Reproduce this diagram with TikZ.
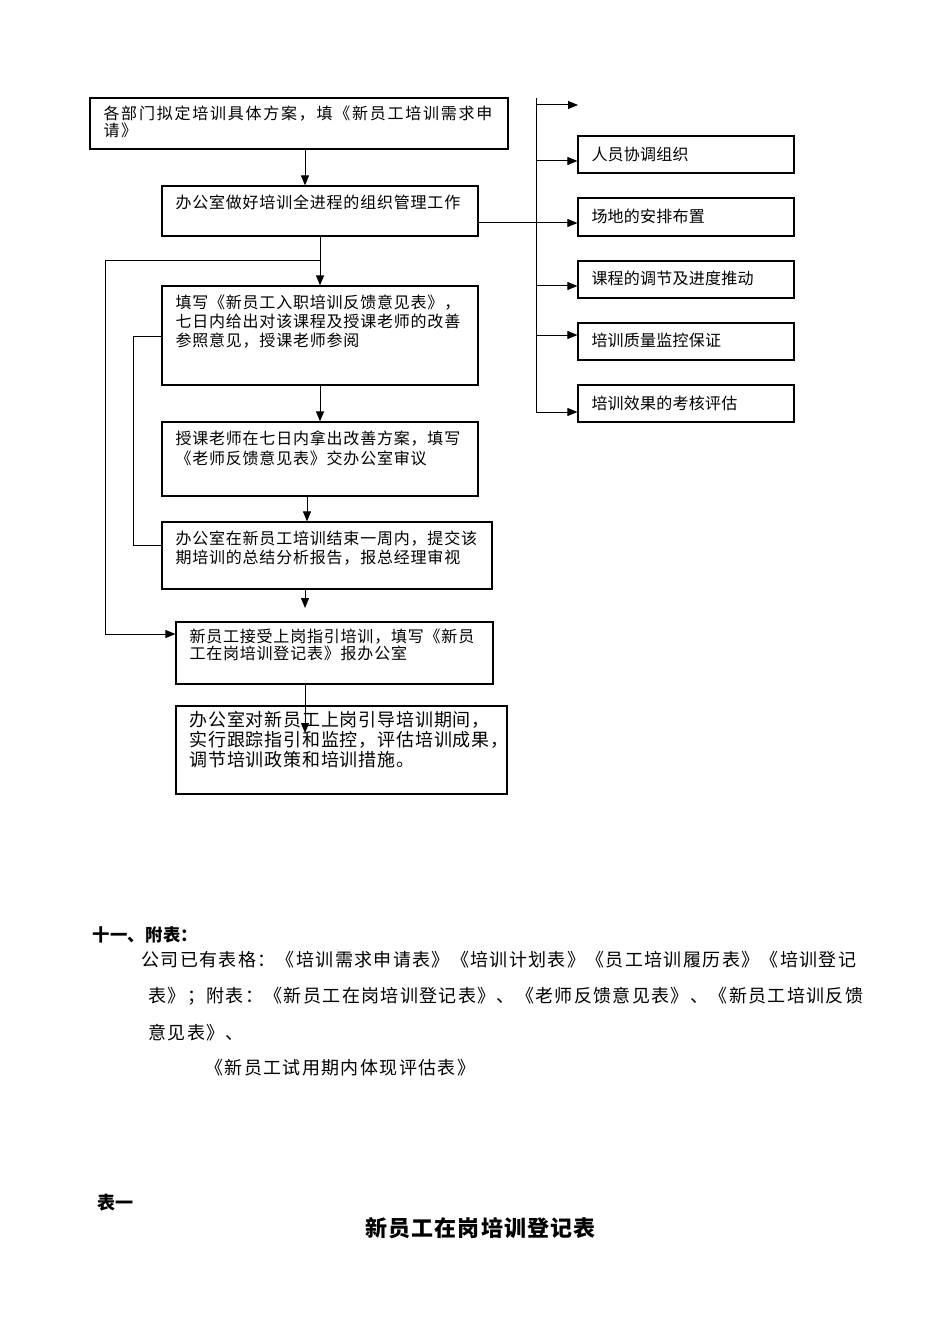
\documentclass[tikz,border=0pt]{standalone}
\usepackage{fontspec}
\setmainfont{Noto Sans CJK SC}
\usetikzlibrary{arrows.meta,fit,calc}
\begin{document}
\begin{tikzpicture}[x=0.75pt,y=-0.75pt, line width=0.75pt,
  box/.style={draw, line width=0.9pt, inner sep=0pt},
  arr/.style={-{Triangle[length=7.5pt,width=6pt]}},
  txt/.style={anchor=north west, inner sep=0pt, align=left},
  fsA/.style={font=\fontsize{12}{#1}\selectfont\addfontfeatures{LetterSpace=5}},
  fsB/.style={font=\fontsize{12}{#1}\selectfont\addfontfeatures{LetterSpace=11}},
  fsR/.style={font=\fontsize{12}{13}\selectfont\addfontfeatures{LetterSpace=1.5}},
  fsL/.style={font=\fontsize{13.5}{#1}\selectfont\addfontfeatures{LetterSpace=4.5}},
  fsP/.style={font=\fontsize{13.5}{15}\selectfont\addfontfeatures{LetterSpace=7.5}},
  rtxt/.style={anchor=west, inner sep=0pt, fsR},
  ptxt/.style={anchor=west, inner sep=0pt, fsP}
]
\useasboundingbox (0,0) rectangle (950,1344);
\fill[white] (0,0) rectangle (950,1344);

% ---- left column boxes
\node[box, fit={(90,98) (508,149)}] (b1) {};
\node[txt, fsB=12.75] (t1) at (103,105) {各部门拟定培训具体方案，填《新员工培训需求申\\请》};
\node[box, fit={(162,186) (478,236)}] (b2) {};
\node[txt, fsA=13] (t2) at (175,194) {办公室做好培训全进程的组织管理工作};
\node[box, fit={(162,286) (478,385)}] (b3) {};
\node[txt, fsA=14.25] (t3) at (175,294) {填写《新员工入职培训反馈意见表》，\\七日内给出对该课程及授课老师的改善\\参照意见，授课老师参阅};
\node[box, fit={(162,422) (478,496)}] (b4) {};
\node[txt, fsA=15] (t4) at (175,430) {授课老师在七日内拿出改善方案，填写\\《老师反馈意见表》交办公室审议};
\node[box, fit={(162,522) (492,589)}] (b5) {};
\node[txt, fsA=14.25] (t5) at (175,530) {办公室在新员工培训结束一周内，提交该\\期培训的总结分析报告，报总经理审视};
\node[box, fit={(176,622) (493,684)}] (b6) {};
\node[txt, fsA=12.75] (t6) at (189,628) {新员工接受上岗指引培训，填写《新员\\工在岗培训登记表》报办公室};
\node[box, fit={(176,706) (507,794)}] (b7) {};
\node[txt, fsL=15] (t7) at (189,711) {办公室对新员工上岗引导培训期间，\\实行跟踪指引和监控，评估培训成果，\\调节培训政策和培训措施。};

% ---- right column boxes
\coordinate (r0) at (578,105);
\node[box, fit={(578,136) (794,173)}] (r1) {};
\node[rtxt] (rt1) at (591,154) {人员协调组织};
\node[box, fit={(578,198) (794,236)}] (r2) {};
\node[rtxt] (rt2) at (591,216) {场地的安排布置};
\node[box, fit={(578,261) (794,298)}] (r3) {};
\node[rtxt] (rt3) at (591,278) {课程的调节及进度推动};
\node[box, fit={(578,323) (794,360)}] (r4) {};
\node[rtxt] (rt4) at (591,340) {培训质量监控保证};
\node[box, fit={(578,385) (794,422)}] (r5) {};
\node[rtxt] (rt5) at (591,403) {培训效果的考核评估};

% ---- spine and branches
\coordinate (s0) at (536,98);
\coordinate (j0) at (536,105);
\coordinate (j1) at (536,161);
\coordinate (j2) at (536,223);
\coordinate (j3) at (536,286);
\coordinate (j4) at (536,335);
\coordinate (j5) at (536,412);
\draw (s0) -- (j5);
\draw[arr] (j0) -- (r0);
\draw[arr] (j1) -- (j1 -| r1.west);
\draw[arr] (b2.east |- j2) -- (j2 -| r2.west);
\draw[arr] (j3) -- (j3 -| r3.west);
\draw[arr] (j4) -- (j4 -| r4.west);
\draw[arr] (j5) -- (j5 -| r5.west);

% ---- main chain
\coordinate (cx1) at (305,0);
\coordinate (cx2) at (320,0);
\coordinate (cx3) at (307,0);
\draw[arr] (b1.south -| cx1) -- (b2.north -| cx1);
\draw[arr] (b2.south -| cx2) -- (b3.north -| cx2);
\draw[arr] (b3.south -| cx2) -- (b4.north -| cx2);
\draw[arr] (b4.south -| cx3) -- (b5.north -| cx3);
\coordinate (f2) at (305,608);
\draw[arr] (b5.south -| cx1) -- (f2);
\coordinate (f3) at (305,733);
\draw[arr] (b6.south -| cx1) -- (f3);

% ---- outer loop
\coordinate (L1) at (105,261);
\coordinate (L2) at (105,634);
\draw[arr] (cx2 |- L1) -- (L1) -- (L2) -- (L2 -| b6.west);

% ---- inner loop
\coordinate (K1) at (133,336);
\coordinate (K2) at (133,545);
\draw (b3.west |- K1) -- (K1) -- (K2) -- (K2 -| b5.west);

% ---- text below
\node[anchor=west, inner sep=0pt, font=\fontsize{13}{15}\selectfont\bfseries\addfontfeatures{LetterSpace=2}] (h1) at (92,935) {十一、附表：};
\node[ptxt] (p1) at (141,960) {公司已有表格：《培训需求申请表》《培训计划表》《员工培训履历表》《培训登记};
\node[ptxt] (p2) at (148,996) {表》；附表：《新员工在岗培训登记表》、《老师反馈意见表》、《新员工培训反馈};
\node[ptxt] (p3) at (148,1033) {意见表》、};
\node[ptxt] (p4) at (205,1068) {《新员工试用期内体现评估表》};
\node[anchor=west, inner sep=0pt, font=\fontsize{13.5}{15}\selectfont\bfseries] (h2) at (97,1203) {表一};
\node[anchor=west, inner sep=0pt, font=\fontsize{16.5}{20}\selectfont\bfseries\addfontfeatures{LetterSpace=5}] (h3) at (365,1228) {新员工在岗培训登记表};
\end{tikzpicture}
\end{document}
